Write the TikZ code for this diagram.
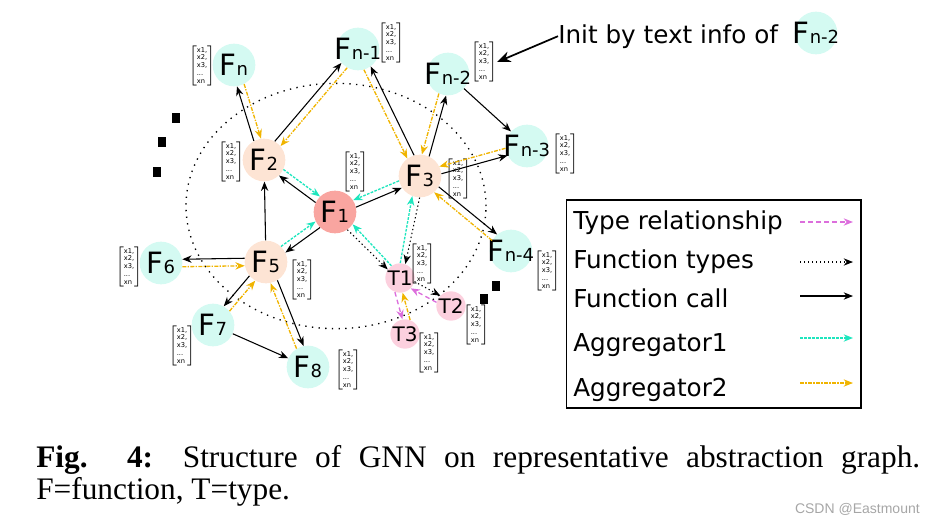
\documentclass[tikz,border=0pt]{standalone}
\usepackage{fontspec}
\setmainfont{Liberation Serif}
\newfontfamily\djv{DejaVu Sans}
\newfontfamily\lsans{Liberation Sans}
\usetikzlibrary{arrows.meta}
\definecolor{leafcyan}{RGB}{212,250,242}
\definecolor{midpeach}{RGB}{253,228,212}
\definecolor{rootred}{RGB}{249,165,160}
\definecolor{typepink}{RGB}{252,208,222}
\definecolor{aggcyan}{RGB}{30,230,190}
\definecolor{agggold}{RGB}{240,180,0}
\definecolor{relviolet}{RGB}{220,110,220}
\newcommand{\sbs}[1]{{\fontsize{13.5}{13.5}\selectfont #1}}
\newcommand{\Fl}[1]{\makebox[0pt]{F\sbs{#1}}}
\newcommand{\vecx}{$\left[\vcenter{\hbox{\begin{tabular}{@{}l@{}}x1,\\x2,\\x3,\\...\\xn\end{tabular}}}\right]$}
\begin{document}
\begin{tikzpicture}[x=0.75pt,y=-0.75pt]
  \tikzstyle{fleaf}=[circle,fill=leafcyan,minimum size=32pt,inner sep=0pt,font=\djv\fontsize{22}{22}\selectfont];
  \tikzstyle{fmid}=[fleaf,fill=midpeach];
  \tikzstyle{froot}=[fleaf,fill=rootred];
  \tikzstyle{tnode}=[circle,fill=typepink,minimum size=22pt,inner sep=0pt,font=\djv\fontsize{15}{15}\selectfont];
  \tikzstyle{vec}=[inner sep=0pt,font=\djv\fontsize{5}{5.8}\selectfont];
  \tikzstyle{dotsq}=[fill=black,minimum width=6pt,minimum height=7pt,inner sep=0pt];
  \tikzstyle{call}=[-{Stealth[length=7pt,width=5.5pt]},line width=0.8pt];
  \tikzstyle{ftype}=[call,dash pattern=on 1pt off 2pt];
  \tikzstyle{agg1}=[call,aggcyan,line width=1pt,dash pattern=on 2pt off 1pt];
  \tikzstyle{agg2}=[call,agggold,line width=1pt,dash pattern=on 3pt off 1pt on 1pt off 1pt];
  \tikzstyle{typerel}=[call,relviolet,line width=1pt,dash pattern=on 3.5pt off 2.5pt];
  \tikzstyle{legtext}=[anchor=base west,inner sep=0pt,font=\djv\fontsize{18.5}{18.5}\selectfont];

  \useasboundingbox (0,0) rectangle (935,525);

  % region of the graph
  \draw[line width=1pt,dash pattern=on 1pt off 4pt] (336,206) ellipse [x radius=112.5pt,y radius=92pt];

  % functions
  \node[froot] (F1) at (335,212) {\Fl{1}};
  \node[fmid] (F2) at (264,160) {\Fl{2}};
  \node[fmid] (F3) at (420,176) {\Fl{3}};
  \node[fmid] (F5) at (266,262) {\Fl{5}};
  \node[fleaf] (Fn) at (234,65) {\Fl{n}};
  \node[fleaf] (Fn1) at (358,49) {\Fl{n-1}};
  \node[fleaf] (Fn2) at (448,74) {\Fl{n-2}};
  \node[fleaf] (Fn3) at (527,146) {\Fl{n-3}};
  \node[fleaf] (Fn4) at (511,251) {\Fl{n-4}};
  \node[fleaf] (F6) at (161,263) {\Fl{6}};
  \node[fleaf] (F7) at (213,325) {\Fl{7}};
  \node[fleaf] (F8) at (308,367) {\Fl{8}};

  % types
  \node[tnode] (T1) at (400,278) {T1};
  \node[tnode] (T2) at (451,306) {T2};
  \node[tnode] (T3) at (405,334) {T3};

  % feature vectors
  \node[vec] (vFn) at (202,66) {\vecx};
  \node[vec] (vFn1) at (391,43) {\vecx};
  \node[vec] (vF2) at (231,162) {\vecx};
  \node[vec] (vF1) at (355,172) {\vecx};
  \node[vec] (vFn2) at (484,62) {\vecx};
  \node[vec] (vFn3) at (565,154) {\vecx};
  \node[vec] (vF3) at (458,179) {\vecx};
  \node[vec] (vF6) at (129,267) {\vecx};
  \node[vec] (vF7) at (182,346) {\vecx};
  \node[vec] (vF8) at (348,370) {\vecx};
  \node[vec] (vF5) at (302,280) {\vecx};
  \node[vec] (vT1) at (422,264) {\vecx};
  \node[vec] (vT2) at (476,325) {\vecx};
  \node[vec] (vT3) at (429,353) {\vecx};
  \node[vec] (vFn4) at (547,271) {\vecx};

  % more nodes
  \node[dotsq] (d1) at (176,118) {};
  \node[dotsq] (d2) at (162,142) {};
  \node[dotsq] (d3) at (157,172) {};
  \node[dotsq] (d4) at (496,286) {};
  \node[dotsq] (d5) at (484,299) {};

  % function calls
  \draw[call] (F2.118) -- (Fn.278);
  \draw[call] (F2.60) -- (Fn1.220);
  \draw[call] (F1.154) -- (F2.314);
  \draw[call] (F1.13) -- (F3.213);
  \draw[call] (F3.106) -- (Fn1.306);
  \draw[call] (F3.65) -- (Fn2.265);
  \draw[call] (Fn2) -- (Fn3);
  \draw[call] (F3.6) -- (Fn3.206);
  \draw[call] (F3.330) -- (Fn4.130);
  \draw[call] (F5) -- (F2);
  \draw[call] (F1.226) -- (F5.26);
  \draw[call] (F5.170) -- (F6.10);
  \draw[call] (F5.220) -- (F7.60);
  \draw[call] (F5.302) -- (F8.102);
  \draw[call] (F7) -- (F8);

  % function types
  \draw[ftype] (F1.305) -- (T1.145);
  \draw[ftype] (F3.269) -- (T1.69);
  \draw[ftype] (T1.346) -- (T2.136);

  % type relationship
  \draw[typerel] (T2.166) -- (T1.316);
  \draw[typerel] (T1.250) -- (T3.100);

  % aggregator 1
  \draw[agg1] (F2.334) -- (F1.134);
  \draw[agg1] (F3.193) -- (F1.33);
  \draw[agg1] (F5.46) -- (F1.206);
  \draw[agg1] (T1.125) -- (F1.325);
  \draw[agg1] (T1.89) -- (F3.249);

  % aggregator 2
  \draw[agg2] (Fn.298) -- (F2.98);
  \draw[agg2] (Fn1.240) -- (F2.40);
  \draw[agg2] (Fn1.286) -- (F3.126);
  \draw[agg2] (Fn2.245) -- (F3.85);
  \draw[agg2] (Fn3.186) -- (F3.26);
  \draw[agg2] (Fn4.151) -- (F3.311);
  \draw[agg2] (F6.350) -- (F5.190);
  \draw[agg2] (F7.40) -- (F5.240);
  \draw[agg2] (F8.122) -- (F5.282);
  \draw[agg2] (T3.70) -- (T1.280);

  % init note
  \node[legtext] (init) at (558,43) {Init by text info of};
  \node[fleaf] (Fref) at (816,33) {\Fl{n-2}};
  \draw[-{Stealth[length=10pt,width=8pt]},line width=1.3pt] (init.west) -- (vFn2.east);

  % legend
  \node[draw,line width=1pt,minimum width=221pt,minimum height=156pt,inner sep=0pt] (legend) at (713.5,304) {};
  \node[legtext] (lg1) at (573,229) {Type relationship};
  \node[legtext] (lg2) at (573,268) {Function types};
  \node[legtext] (lg3) at (573,307) {Function call};
  \node[legtext] (lg4) at (573,351) {Aggregator1};
  \node[legtext] (lg5) at (573,396) {Aggregator2};
  \coordinate (la1) at (800,222); \coordinate (lb1) at (853,222);
  \coordinate (la2) at (800,262); \coordinate (lb2) at (853,262);
  \coordinate (la3) at (800,296); \coordinate (lb3) at (853,296);
  \coordinate (la4) at (800,338); \coordinate (lb4) at (853,338);
  \coordinate (la5) at (800,383); \coordinate (lb5) at (853,383);
  \draw[typerel] (la1) -- (lb1);
  \draw[ftype] (la2) -- (lb2);
  \draw[call] (la3) -- (lb3);
  \draw[agg1] (la4) -- (lb4);
  \draw[agg2] (la5) -- (lb5);

  % caption
  \node[anchor=north west,inner sep=0pt,text width=663pt,align=justify,font=\fontsize{23.5}{24}\selectfont] (cap) at (36,445) {\textbf{Fig. 4:} Structure of GNN on representative abstraction graph.\linebreak F=function, T=type.};
  \node[anchor=base east,inner sep=0pt,text=gray!70,font=\lsans\fontsize{10.5}{10.5}\selectfont] (mark) at (920,513) {CSDN @Eastmount};
\end{tikzpicture}
\end{document}
